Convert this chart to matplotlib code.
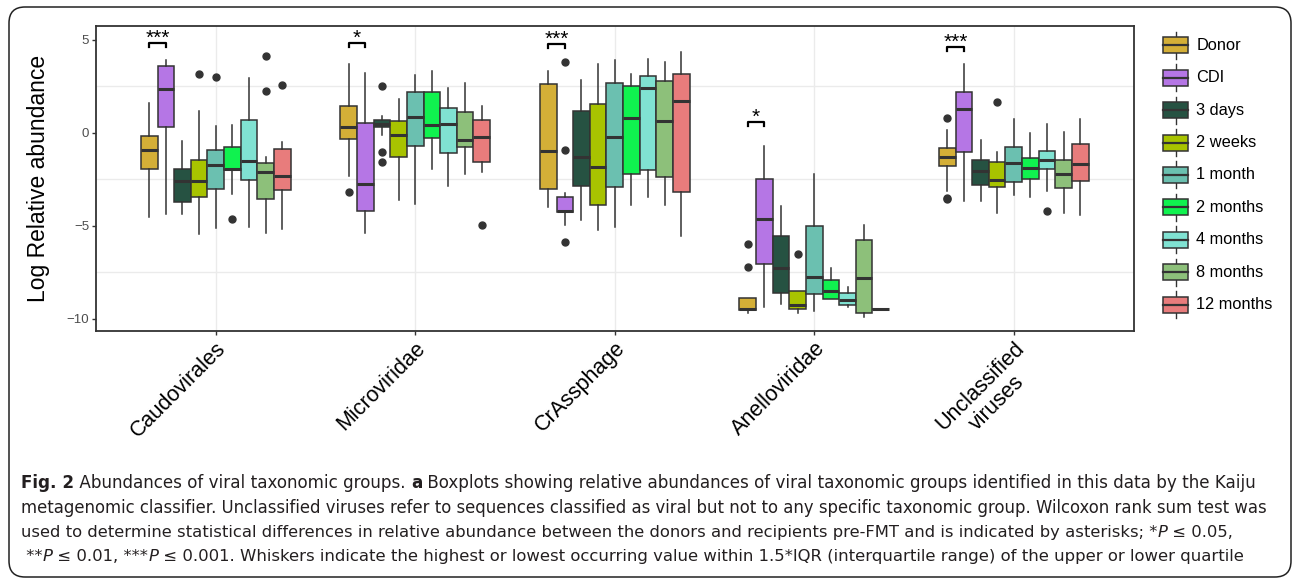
import matplotlib
matplotlib.use("Agg")
import matplotlib.pyplot as plt
from matplotlib import font_manager
from matplotlib.patches import Rectangle, FancyBboxPatch

# data (log relative abundance)
categories = ["Caudovirales", "Microviridae", "CrAssphage", "Anelloviridae", "Unclassified\nviruses"]
groups = ["Donor", "CDI", "3 days", "2 weeks", "1 month", "2 months", "4 months", "8 months", "12 months"]
colors = ["#D4AF37", "#B576E5", "#265242", "#A8C300", "#6BC0B0", "#10F24F", "#80E2D2", "#8DC07A", "#E87C7C"]

whishi = [
    [1.58, 3.90, -0.46, 1.17, 0.36, 0.40, 2.95, -1.29, -0.52],
    [3.67, 3.19, 0.91, 1.79, 3.10, 3.33, 2.42, 2.65, 1.42],
    [3.31, -3.25, 2.83, 3.67, 3.92, 3.14, 3.97, 3.81, 4.33],
    [-8.86, -0.71, -3.95, -8.50, -2.22, -7.28, -8.30, -4.94, -9.45],
    [0.14, 3.67, -0.39, -1.05, 0.75, 0.00, 0.45, 0.04, 0.72],
]
q3 = [
    [-0.16, 3.57, -1.95, -1.48, -0.93, -0.77, 0.67, -1.63, -0.89],
    [1.45, 0.54, 0.68, 0.63, 2.17, 2.17, 1.34, 1.13, 0.70],
    [2.60, -3.47, 1.17, 1.56, 2.69, 2.51, 3.06, 2.79, 3.15],
    [-8.86, -2.47, -5.55, -8.50, -4.99, -7.91, -8.59, -5.75, -9.45],
    [-0.84, 2.19, -1.47, -1.56, -0.78, -1.34, -0.97, -1.47, -0.62],
]
med = [
    [-0.91, 2.35, -2.58, -2.61, -1.75, -1.93, -1.54, -2.09, -2.33],
    [0.29, -2.76, 0.45, -0.14, 0.86, 0.40, 0.45, -0.41, -0.21],
    [-1.00, -4.19, -1.29, -1.86, -0.25, 0.79, 2.40, 0.64, 1.69],
    [-9.45, -4.65, -7.25, -9.25, -7.73, -8.52, -8.98, -7.79, -9.45],
    [-1.31, 1.27, -2.04, -2.54, -1.64, -1.88, -1.48, -2.24, -1.70],
]
q1 = [
    [-1.97, 0.32, -3.72, -3.47, -3.01, -2.00, -2.52, -3.58, -3.08],
    [-0.34, -4.19, 0.29, -1.32, -0.71, -0.30, -1.11, -0.78, -1.56],
    [-3.02, -4.26, -2.85, -3.90, -2.90, -2.24, -1.99, -2.40, -3.18],
    [-9.52, -7.07, -8.63, -9.49, -8.66, -8.95, -9.27, -9.67, -9.45],
    [-1.77, -1.02, -2.81, -2.90, -2.66, -2.47, -1.95, -2.99, -2.58],
]
whislo = [
    [-4.51, -4.38, -4.38, -5.44, -5.13, -3.29, -5.08, -5.40, -5.19],
    [-2.33, -5.40, -0.14, -3.61, -3.83, -1.97, -2.85, -2.22, -2.13],
    [-3.97, -4.96, -4.69, -5.23, -5.08, -3.90, -3.47, -3.90, -5.53],
    [-9.70, -9.38, -9.18, -9.70, -9.56, -8.95, -9.34, -9.88, -9.45],
    [-3.11, -3.65, -3.67, -4.30, -3.35, -3.44, -3.15, -4.33, -4.40],
]
fliers = [
    [[], [], [], [3.14], [2.97], [-4.63], [], [4.12, 2.22], [2.58]],
    [[-3.17], [], [2.52, -1.02, -1.59], [], [], [], [], [], [-4.94]],
    [[], [3.80, -0.95, -5.85], [], [], [], [], [], [], []],
    [[-5.98, -7.20], [], [], [-6.53], [], [], [], [], []],
    [[0.81, -3.49, -3.58], [], [], [1.63], [], [], [-4.19], [], []],
]
sig_labels = ["***", "*", "***", "*", "***"]
sig_heights = [4.83, 4.83, 4.75, 0.57, 4.62]

main_font = "Liberation Sans"
try:
    font_manager.findfont("Liberation Sans Narrow", fallback_to_default=False)
    cap_font = "Liberation Sans Narrow"
except ValueError:
    cap_font = "DejaVu Sans"

W, H = 1293, 582
fig = plt.figure(figsize=(W / 100, H / 100), dpi=100)
ax = fig.add_axes([96 / W, 1 - 331 / H, (1133.5 - 96) / W, (331 - 26) / H])

slot = 0.75 / len(groups)
stats, pos, cols = [], [], []
for ci in range(len(categories)):
    for gi in range(len(groups)):
        stats.append(dict(whislo=whislo[ci][gi], q1=q1[ci][gi], med=med[ci][gi],
                          q3=q3[ci][gi], whishi=whishi[ci][gi], fliers=fliers[ci][gi]))
        pos.append(ci + 1 - 0.375 + slot * (gi + 0.5))
        cols.append(colors[gi])

edge = "#333333"
bp = ax.bxp(stats, positions=pos, widths=slot, patch_artist=True, showcaps=False,
            manage_ticks=False,
            boxprops=dict(edgecolor=edge, linewidth=1.1),
            medianprops=dict(color=edge, linewidth=2.2, solid_capstyle="butt"),
            whiskerprops=dict(color=edge, linewidth=1.1),
            flierprops=dict(marker="o", markerfacecolor=edge, markeredgecolor=edge, markersize=5))
for patch, c in zip(bp["boxes"], cols):
    patch.set_facecolor(c)
    patch.set_zorder(2)

# significance brackets between donor and CDI
for ci in range(len(categories)):
    x0 = ci + 1 - 0.375 + slot * 0.5
    x1 = ci + 1 - 0.375 + slot * 1.5
    y = sig_heights[ci]
    ax.plot([x0, x0, x1, x1], [y - 0.22, y, y, y - 0.22], color="black", lw=1.6)
    ax.text((x0 + x1) / 2, y - 0.04, sig_labels[ci], ha="center", va="baseline",
            fontsize=15, family=main_font, color="black")

ax.set_xlim(0.4, 5.6)
ax.set_ylim(-10.65, 5.73)
ax.set_xticks(range(1, 6))
ax.set_xticklabels(categories, rotation=45, ha="right", va="top", rotation_mode="anchor",
                   fontsize=15.5, family=main_font, multialignment="center")
ax.set_yticks([5, 0, -5, -10])
ax.set_yticklabels(["5", "0", "\u22125", "\u221210"], fontsize=9.5, family=main_font, color="#4D4D4D")
ax.tick_params(direction="out", length=3, width=1, color=edge, pad=2)
ax.set_ylabel("Log Relative abundance", fontsize=16.5, family=main_font, labelpad=12)
for y in [2.5, -2.5, -7.5]:
    ax.axhline(y, color="#EBEBEB", lw=1, zorder=0)
for x in range(1, 6):
    ax.axvline(x, color="#EBEBEB", lw=1, zorder=0)
for s in ax.spines.values():
    s.set_color(edge)
    s.set_linewidth(1.3)

# overlay in pixel coordinates for legend, caption and frame
over = fig.add_axes([0, 0, 1, 1], zorder=5)
over.set_xlim(0, W)
over.set_ylim(H, 0)
over.axis("off")

over.add_patch(FancyBboxPatch((9, 7), 1282, 570, boxstyle="round,pad=0,rounding_size=16",
                              facecolor="none", edgecolor="#222222", lw=1.1))

for i, (g, c) in enumerate(zip(groups, colors)):
    yc = 45.3 + 32.4 * i
    over.plot([1175.8, 1175.8], [yc - 13.5, yc + 13.5], color=edge, lw=1)
    over.add_patch(Rectangle((1163.3, yc - 8), 25, 16, facecolor=c, edgecolor=edge, lw=1.1, zorder=3))
    over.plot([1163.3, 1188.3], [yc, yc], color=edge, lw=1.6, zorder=4)
    over.text(1196.5, yc, g, fontsize=11.8, family=main_font, va="center", ha="left")

# caption
r = fig.canvas.get_renderer()


def run_width(s, size, **kw):
    t1 = over.text(0, 0, s + "|", fontsize=size, family=cap_font, **kw)
    t2 = over.text(0, 0, "|", fontsize=size, family=cap_font, **kw)
    w = t1.get_window_extent(r).width - t2.get_window_extent(r).width
    t1.remove()
    t2.remove()
    return w


def draw_runs(x, y, runs, size):
    for s, kw in runs:
        over.text(x, y, s, fontsize=size, family=cap_font, va="center", ha="left",
                  color="#231F20", **kw)
        x += run_width(s, size, **kw)


N = {}
B = {"fontweight": "bold"}
I = {"fontstyle": "italic"}
caption = [
    [("Fig. 2", B), (" Abundances of viral taxonomic groups. ", N), ("a", B),
     (" Boxplots showing relative abundances of viral taxonomic groups identified in this data by the Kaiju", N)],
    [("metagenomic classifier. Unclassified viruses refer to sequences classified as viral but not to any "
      "specific taxonomic group. Wilcoxon rank sum test was", N)],
    [("used to determine statistical differences in relative abundance between the donors and recipients "
      "pre-FMT and is indicated by asterisks; *", N), ("P", I), (" \u2264 0.05,", N)],
    [(" **", N), ("P", I), (" \u2264 0.01, ***", N), ("P", I),
     (" \u2264 0.001. Whiskers indicate the highest or lowest occurring value within 1.5*IQR "
      "(interquartile range) of the upper or lower quartile", N)],
]
line_ends = [1250, 1264, 1230, 1237]
base = 12
for i, line in enumerate(caption):
    w = sum(run_width(s, base, **kw) for s, kw in line)
    size = base * (line_ends[i] - 21) / w
    draw_runs(21, 483 + 24.6 * i, line, size)

fig.savefig("out.png", dpi=100)
